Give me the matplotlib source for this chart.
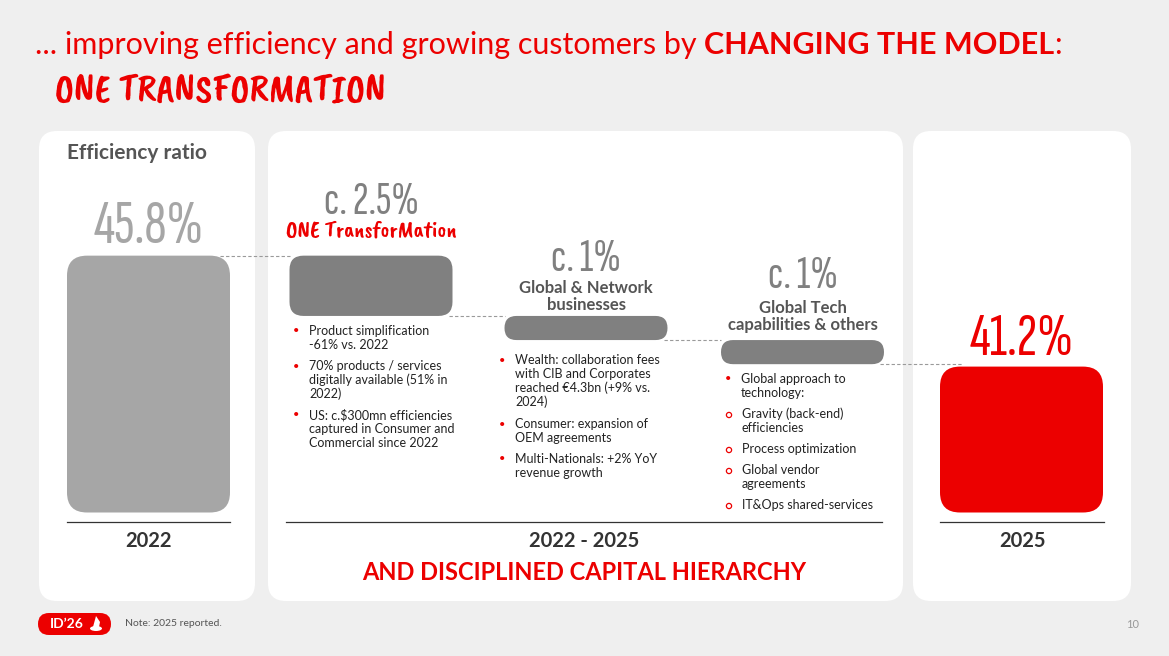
import matplotlib

matplotlib.use("Agg")
import matplotlib.pyplot as plt
from matplotlib.patches import FancyBboxPatch, Circle, Ellipse, Polygon

W, H = 1169, 656
RED = "#ec0000"
DARK = "#555555"
INK = "#222222"
BG = "#efefef"

# ---- data ----
years = ["2022", "2025"]
ratio_start = 45.8
ratio_end = 41.2
step_values = [2.5, 1.0, 1.0]
step_labels = ["c. 2.5%", "c. 1%", "c. 1%"]
step_names = ["ONE TransforMation", "Global & Network\nbusinesses", "Global Tech\ncapabilities & others"]
step_bullets = [
    [("•", "Product simplification\n-61% vs. 2022"),
     ("•", "70% products / services\ndigitally available (51% in\n2022)"),
     ("•", "US: c.$300mn efficiencies\ncaptured in Consumer and\nCommercial since 2022")],
    [("•", "Wealth: collaboration fees\nwith CIB and Corporates\nreached €4.3bn (+9% vs.\n2024)"),
     ("•", "Consumer: expansion of\nOEM agreements"),
     ("•", "Multi-Nationals: +2% YoY\nrevenue growth")],
    [("•", "Global approach to\ntechnology:"),
     ("o", "Gravity (back-end)\nefficiencies"),
     ("o", "Process optimization"),
     ("o", "Global vendor\nagreements"),
     ("o", "IT&Ops shared-services")],
]

# ---- layout (pixels) ----
BODY = ["Lato", "DejaVu Sans"]
NARROW = ["Sofia Sans Extra Condensed", "Pathway Gothic One", "Fira Sans Extra Condensed",
          "DejaVu Sans"]
MARKER = ["Permanent Marker", "Caveat Brush", "Rock Salt", "Kalam", "DejaVu Sans"]
bar_x = [148.5, 371, 586, 802.5, 1021.5]
bar_w = 163
bar_r = [20, 14, 12, 12, 20]
base = 35.15
y_min, y_max = 29.2, 56.4
px_per_unit = H / (y_max - y_min)
bullet_x = [296, 502, 728]
bullet_tops = [[331, 366, 415], [360, 424, 459], [379, 414, 449, 470, 505]]
line_h = 14

fig = plt.figure(figsize=(W / 100, H / 100), dpi=100)
fig.patch.set_facecolor(BG)
ax = fig.add_axes([0, 0, 1, 1])
ax.set_xlim(0, W)
ax.set_ylim(H, 0)
ax.axis("off")

# white panels
for x0, x1 in [(39, 255), (268, 903), (913, 1131)]:
    ax.add_patch(FancyBboxPatch((x0, 131), x1 - x0, 470,
                                boxstyle="round,pad=0,rounding_size=18",
                                fc="white", ec="none"))

# title
t1 = ax.text(35, 45, "... improving efficiency and growing customers by ", color=RED,
             fontsize=22, family=BODY, va="center", ha="left")
t2 = ax.annotate("CHANGING THE MODEL", xy=(1, 0), xycoords=t1, color=RED, fontsize=22,
                 family=BODY, weight="bold", va="bottom", ha="left")
ax.annotate(":", xy=(1, 0), xycoords=t2, color=RED, fontsize=22, family=BODY,
            va="bottom", ha="left")
ax.text(55, 93, "ONE TRANSFORMATION", color=RED, fontsize=28, family=MARKER,
        weight="bold", va="center", ha="left")

ax.text(67, 153, "Efficiency ratio", color=DARK, fontsize=15, family=BODY,
        weight="bold", va="center", ha="left")

# data axes for the waterfall
bx = fig.add_axes([0, 0, 1, 1])
bx.set_xlim(0, W)
bx.set_ylim(y_min, y_max)
bx.axis("off")
bx.patch.set_alpha(0)

aspect = 1 / px_per_unit


def rbar(ax_, xc, bottom, top, r, color):
    hpx = (top - bottom) * px_per_unit
    r = min(r, hpx / 2, bar_w / 2)
    ax_.add_patch(FancyBboxPatch((xc - bar_w / 2, bottom), bar_w, top - bottom,
                                 boxstyle=f"round,pad=0,rounding_size={r}",
                                 mutation_aspect=aspect, fc=color, ec="none", zorder=3))


rbar(bx, bar_x[0], base, ratio_start, bar_r[0], "#a6a6a6")
rbar(bx, bar_x[4], base, ratio_end, bar_r[4], RED)

level = ratio_start
prev_right = bar_x[0] + bar_w / 2 - 10
for i, v in enumerate(step_values):
    xc = bar_x[i + 1]
    bx.plot([prev_right, xc - bar_w / 2], [level, level], color="#9a9a9a",
            lw=0.8, ls=(0, (3, 2)), zorder=2)
    rbar(bx, xc, level - v, level, bar_r[i + 1], "#808080")
    level -= v
    prev_right = xc + bar_w / 2 - 4
bx.plot([prev_right, bar_x[4] - 60], [level, level], color="#9a9a9a",
        lw=0.8, ls=(0, (3, 2)), zorder=2)

# value labels
bx.annotate(f"{ratio_start}%", (bar_x[0], ratio_start), xytext=(0, 13),
            textcoords="offset pixels", ha="center", va="baseline", color="#a6a6a6",
            fontsize=45, family=NARROW)
bx.annotate(f"{ratio_end}%", (bar_x[4], ratio_end), xytext=(0, 12),
            textcoords="offset pixels", ha="center", va="baseline", color=RED,
            fontsize=44, family=NARROW, weight="semibold")

level = ratio_start
label_off = [42, 45, 52]
name_off = [24, 27, 31]
for i, v in enumerate(step_values):
    xc = bar_x[i + 1]
    bx.annotate(step_labels[i], (xc, level), xytext=(0, label_off[i]),
                textcoords="offset pixels", ha="center", va="baseline", color="#808080",
                fontsize=34, family=NARROW, weight="medium")
    if i == 0:
        bx.annotate(step_names[i], (xc, level), xytext=(0, name_off[i]),
                    textcoords="offset pixels", ha="center", va="center", color=RED,
                    fontsize=17, family=MARKER, weight="bold")
    else:
        bx.annotate(step_names[i], (xc, level - v), xytext=(0, name_off[i]),
                    textcoords="offset pixels", ha="center", va="bottom", color=DARK,
                    fontsize=12, family=BODY, weight="bold", linespacing=1.1)
    level -= v

# bullets
for i, items in enumerate(step_bullets):
    bxp = bullet_x[i]
    for (mark, txt), top in zip(items, bullet_tops[i]):
        if mark == "•":
            ax.text(bxp, top, "•", color=RED, fontsize=8, va="center", ha="center",
                    family=BODY)
            tx = bxp + 13
        else:
            ax.add_patch(Circle((bxp + 1, top + 1), 2.6, fc="none", ec=RED, lw=0.9))
            tx = bxp + 14
        for k, line in enumerate(txt.split("\n")):
            ax.text(tx, top + k * line_h, line, color=INK, fontsize=9, family=BODY,
                    va="center", ha="left")

# baselines and period labels
for x0, x1, lab, xc in [(67, 230, years[0], 148.5), (286, 882, "2022 - 2025", 584),
                        (940, 1104, years[1], 1022)]:
    ax.plot([x0, x1], [522, 522], color="#333333", lw=0.9)
    ax.text(xc, 541, lab, color="#333333", fontsize=14.5, family=BODY, weight="bold",
            ha="center", va="center")
ax.text(584, 572, "AND DISCIPLINED CAPITAL HIERARCHY", color=RED, fontsize=17,
        family=BODY, weight="bold", ha="center", va="center")

# footer
ax.add_patch(FancyBboxPatch((38, 613), 73, 22, boxstyle="round,pad=0,rounding_size=11",
                            fc=RED, ec="none"))
ax.text(50, 624, "ID’26", color="white", fontsize=10, family=BODY, weight="bold",
        ha="left", va="center")
ax.add_patch(Ellipse((96, 628.5), 12, 5, fc="white", ec="none"))
ax.add_patch(Polygon([(93, 627), (96, 616), (100, 622), (99, 627)], closed=True,
                     fc="white", ec="none"))
ax.text(125, 623, "Note: 2025 reported.", color="#555555", fontsize=7.5, family=BODY,
        ha="left", va="center")
ax.text(1133, 625, "10", color="#999999", fontsize=8, family=BODY, ha="center", va="center")

fig.savefig("out.png", dpi=100, facecolor=BG)
